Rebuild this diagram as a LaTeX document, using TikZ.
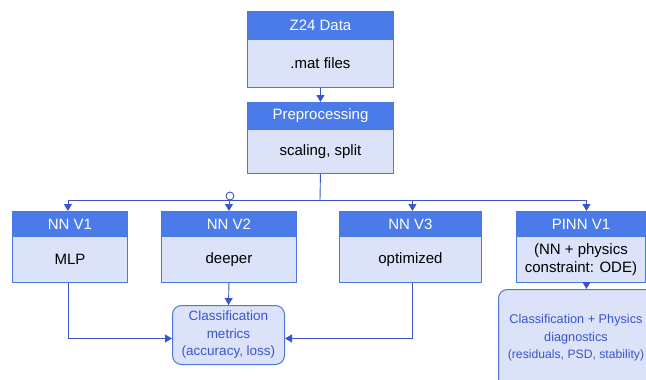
\documentclass[tikz,border=0pt]{standalone}
\usepackage{fontspec}
\setmainfont{Liberation Sans}
\usetikzlibrary{arrows.meta}
\definecolor{hdr}{HTML}{4A7BE8}
\definecolor{bdy}{HTML}{DCE2F7}
\definecolor{brd}{HTML}{4A78E0}
\definecolor{arr}{HTML}{3A55C8}
\definecolor{txtb}{HTML}{3A55D0}
\tikzset{
  hdrbox/.style={draw=brd, fill=hdr, line width=0.9pt, anchor=north west, inner sep=0pt,
    text=white, font=\fontsize{15}{17}\selectfont},
  bodybox/.style={draw=brd, fill=bdy, line width=0.9pt, anchor=north west, inner sep=0pt,
    text=black, font=\fontsize{15}{18.5}\selectfont, align=center},
  resbox/.style={draw=brd, fill=bdy, line width=1pt, rounded corners=9pt, anchor=north west,
    inner sep=0pt, text=txtb, font=\fontsize{13.5}{17.5}\selectfont, align=center},
  conn/.style={draw=arr, line width=0.9pt},
  arrw/.style={conn, -{Triangle[length=7pt,width=8pt]}}
}
\begin{document}
\begin{tikzpicture}[x=1pt,y=-1pt]
\useasboundingbox[fill=white] (0,0) rectangle (646,380);
% Z24
\node[hdrbox, minimum width=146pt, minimum height=28pt] (hz) at (247,11) {Z24 Data};
\node[bodybox, minimum width=146pt, minimum height=48pt] (bz) at (247,39) {.mat files};
% Preprocessing
\node[hdrbox, minimum width=146pt, minimum height=27pt] (hp) at (247,102) {Preprocessing};
\node[bodybox, minimum width=146pt, minimum height=44pt] (bp) at (247,129) {scaling, split};
% NN V1
\node[hdrbox, minimum width=115pt, minimum height=25pt] (h1) at (12,211) {NN V1};
\node[bodybox, minimum width=115pt, minimum height=46pt] (b1) at (12,236) {MLP};
% NN V2
\node[hdrbox, minimum width=135pt, minimum height=25pt] (h2) at (161,211) {NN V2};
\node[bodybox, minimum width=135pt, minimum height=46pt] (b2) at (161,236) {deeper};
% NN V3
\node[hdrbox, minimum width=142pt, minimum height=25pt] (h3) at (339,211) {NN V3};
\node[bodybox, minimum width=142pt, minimum height=46pt] (b3) at (339,236) {optimized};
% PINN V1
\node[hdrbox, minimum width=129pt, minimum height=25pt] (h4) at (516,211) {PINN V1};
\node[bodybox, minimum width=129pt, minimum height=46pt] (b4) at (516,236) {(NN + physics\\constraint: ODE)};
% results
\node[resbox, minimum width=112pt, minimum height=59pt] (m) at (172,305)
  {Classification\\metrics\\(accuracy, loss)};
\node[resbox, minimum width=160pt, minimum height=104pt] (d) at (498,289) {};
\node[text=txtb, font=\fontsize{12.7}{17.5}\selectfont, align=center] (dt) at (576,338)
  {Classification + Physics\\diagnostics\\{\fontsize{12.2}{17.5}\selectfont(residuals, PSD, stability)}};
% connectors
\draw[arrw] (bz.south) -- (hp.north);
\coordinate (bus) at (320,200);
\draw[conn] (bp.south) -- (bus);
\draw[arrw] (bus) -| ([xshift=-2pt]h1.north);
\draw[arrw] (bus) -| (h2.north);
\draw[arrw] (bus) -| ([xshift=2pt]h3.north);
\draw[arrw] (bus) -| ([xshift=5.5pt]h4.north);
\draw[conn, fill=white] (230,196) circle (4pt);
\draw[arrw] (b2.south) -- (m.north);
\draw[arrw] ([xshift=-2pt]b1.south) |- ([yshift=-3.5pt]m.west);
\draw[arrw] ([xshift=2pt]b3.south) |- ([yshift=-3.5pt]m.east);
\draw[arrw] ([xshift=5.5pt]b4.south) -- ([xshift=5.5pt]b4.south |- d.north);
\end{tikzpicture}
\end{document}
